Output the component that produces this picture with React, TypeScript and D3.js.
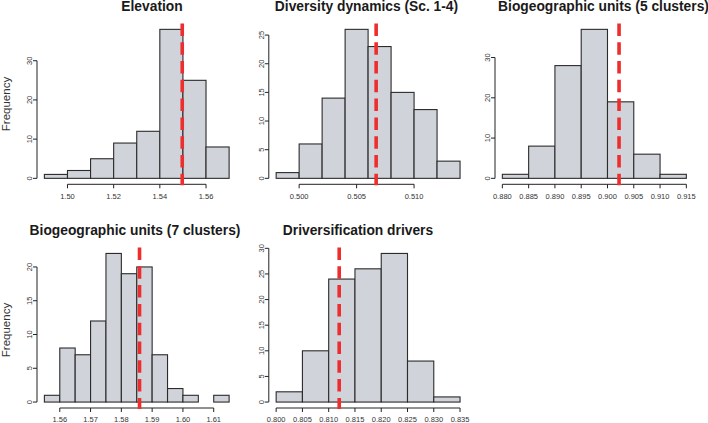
import React from "react";
import * as d3 from "d3";

// ---------- data ----------
const elevationTitle = "Elevation";
const elevationBreaks = [1.49, 1.5, 1.51, 1.52, 1.53, 1.54, 1.55, 1.56, 1.57];
const elevationCounts = [1, 2, 5, 9, 12, 38, 25, 8];
const elevationMean = 1.5497;
const elevationXTicks = ["1.50", "1.52", "1.54", "1.56"];
const elevationYTicks = ["0", "10", "20", "30"];

const diversityTitle = "Diversity dynamics (Sc. 1-4)";
const diversityBreaks = [0.498, 0.5, 0.502, 0.504, 0.506, 0.508, 0.51, 0.512, 0.514];
const diversityCounts = [1, 6, 14, 26, 23, 15, 12, 3];
const diversityMean = 0.5067;
const diversityXTicks = ["0.500", "0.505", "0.510"];
const diversityYTicks = ["0", "5", "10", "15", "20", "25"];

const bio5Title = "Biogeographic units (5 clusters)";
const bio5Breaks = [0.88, 0.885, 0.89, 0.895, 0.9, 0.905, 0.91, 0.915];
const bio5Counts = [1, 8, 28, 37, 19, 6, 1];
const bio5Mean = 0.9022;
const bio5XTicks = ["0.880", "0.885", "0.890", "0.895", "0.900", "0.905", "0.910", "0.915"];
const bio5YTicks = ["0", "10", "20", "30"];

const bio7Title = "Biogeographic units (7 clusters)";
const bio7Breaks = [1.555, 1.56, 1.565, 1.57, 1.575, 1.58, 1.585, 1.59, 1.595, 1.6, 1.605, 1.61, 1.615];
const bio7Counts = [1, 8, 7, 12, 22, 19, 20, 7, 2, 1, 0, 1];
const bio7Mean = 1.5859;
const bio7XTicks = ["1.56", "1.57", "1.58", "1.59", "1.60", "1.61"];
const bio7YTicks = ["0", "5", "10", "15", "20"];

const driversTitle = "Driversification drivers";
const driversBreaks = [0.8, 0.805, 0.81, 0.815, 0.82, 0.825, 0.83, 0.835];
const driversCounts = [2, 10, 24, 26, 29, 8, 1];
const driversMean = 0.812;
const driversXTicks = ["0.800", "0.805", "0.810", "0.815", "0.820", "0.825", "0.830", "0.835"];
const driversYTicks = ["0", "5", "10", "15", "20", "25", "30"];

const yLabel = "Frequency";

// ---------- layout ----------
const W = 708;
const H = 423;
const COLS = [
  { left: 37, right: 236.5 },
  { left: 268.8, right: 467.4 },
  { left: 495, right: 693.7 },
];
const ROWS = [
  { top: 23.4, bottom: 184.3, titleY: 11, labelY: 104 },
  { top: 247.5, bottom: 408, titleY: 234.5, labelY: 330 },
];

const panels = [
  { title: elevationTitle, breaks: elevationBreaks, counts: elevationCounts, mean: elevationMean, xTicks: elevationXTicks, yTicks: elevationYTicks, row: 0, col: 0, ylab: true, titleX: 152 },
  { title: diversityTitle, breaks: diversityBreaks, counts: diversityCounts, mean: diversityMean, xTicks: diversityXTicks, yTicks: diversityYTicks, row: 0, col: 1, ylab: false, titleX: 366.5 },
  { title: bio5Title, breaks: bio5Breaks, counts: bio5Counts, mean: bio5Mean, xTicks: bio5XTicks, yTicks: bio5YTicks, row: 0, col: 2, ylab: false, titleX: 603.5 },
  { title: bio7Title, breaks: bio7Breaks, counts: bio7Counts, mean: bio7Mean, xTicks: bio7XTicks, yTicks: bio7YTicks, row: 1, col: 0, ylab: true, titleX: 135 },
  { title: driversTitle, breaks: driversBreaks, counts: driversCounts, mean: driversMean, xTicks: driversXTicks, yTicks: driversYTicks, row: 1, col: 1, ylab: false, titleX: 358 },
];

const FONT = "'Liberation Sans', Arial, Helvetica, sans-serif";
const BAR_FILL = "#d0d3da";
const BAR_STROKE = "#2b2b2b";
const AXIS = "#222";
const TEXT = "#333";
const RED = "#ee2e2e";

function Panel({ p }: { p: (typeof panels)[number] }) {
  const c = COLS[p.col];
  const r = ROWS[p.row];
  const b0 = p.breaks[0];
  const bN = p.breaks[p.breaks.length - 1];
  const span = bN - b0;
  const ymax = d3.max(p.counts) as number;
  const x = d3.scaleLinear().domain([b0 - 0.04 * span, bN + 0.04 * span]).range([c.left, c.right]);
  const y = d3.scaleLinear().domain([-0.04 * ymax, 1.04 * ymax]).range([r.bottom, r.top]);
  const xt = p.xTicks.map((s) => +s);
  const yt = p.yTicks.map((s) => +s);
  const axY = r.bottom;
  const axX = c.left;
  return (
    <g>
      {p.counts.map((n, i) => (
        <rect
          key={i}
          x={x(p.breaks[i])}
          y={y(n)}
          width={x(p.breaks[i + 1]) - x(p.breaks[i])}
          height={Math.max(0, y(0) - y(n))}
          fill={BAR_FILL}
          stroke={BAR_STROKE}
          strokeWidth={1.1}
        />
      ))}
      {/* x axis */}
      <line x1={x(xt[0])} x2={x(xt[xt.length - 1])} y1={axY} y2={axY} stroke={AXIS} strokeWidth={1} />
      {xt.map((v, i) => (
        <g key={i}>
          <line x1={x(v)} x2={x(v)} y1={axY} y2={axY + 4} stroke={AXIS} strokeWidth={1} />
          <text x={x(v)} y={axY + 14.4} fontSize={7.5} fill={TEXT} textAnchor="middle" fontFamily={FONT}>
            {p.xTicks[i]}
          </text>
        </g>
      ))}
      {/* y axis */}
      <line x1={axX} x2={axX} y1={y(yt[0])} y2={y(yt[yt.length - 1])} stroke={AXIS} strokeWidth={1} />
      {yt.map((v, i) => (
        <g key={i}>
          <line x1={axX - 4} x2={axX} y1={y(v)} y2={y(v)} stroke={AXIS} strokeWidth={1} />
          <text
            transform={`translate(${axX - 5.2},${y(v)}) rotate(-90)`}
            fontSize={7.5}
            fill={TEXT}
            textAnchor="middle"
            fontFamily={FONT}
          >
            {p.yTicks[i]}
          </text>
        </g>
      ))}
      {/* mean line */}
      <line
        x1={x(p.mean)}
        x2={x(p.mean)}
        y1={r.top}
        y2={r.bottom + 1}
        stroke={RED}
        strokeWidth={3.6}
        strokeDasharray="12.5,6.3"
      />
      <text x={p.titleX} y={r.titleY} fontSize={13.8} fontWeight="bold" fill="#1a1a1a" textAnchor="middle" fontFamily={FONT}>
        {p.title}
      </text>
      {p.ylab && (
        <text
          transform={`translate(9.5,${r.labelY}) rotate(-90)`}
          fontSize={11.5}
          fill={TEXT}
          textAnchor="middle"
          fontFamily={FONT}
        >
          {yLabel}
        </text>
      )}
    </g>
  );
}

export default function App() {
  return (
    <svg
      width={W}
      height={H}
      viewBox={`0 0 ${W} ${H}`}
      style={{ position: "absolute", left: 0, top: 0, background: "#fff" }}
    >
      <rect width={W} height={H} fill="#fff" />
      {panels.map((p, i) => (
        <Panel key={i} p={p} />
      ))}
    </svg>
  );
}
